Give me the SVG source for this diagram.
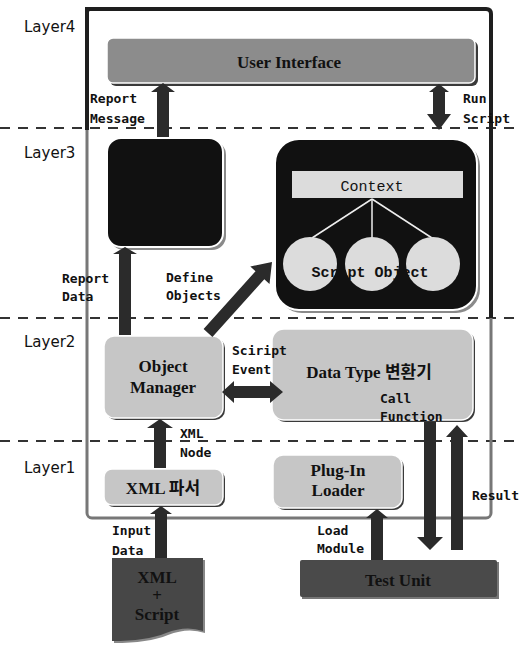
<svg xmlns="http://www.w3.org/2000/svg" width="521" height="649" viewBox="0 0 521 649">
<style>
  .lbl { font-family: "DejaVu Sans Mono", "Liberation Mono", monospace; font-weight: bold; font-size: 13px; fill: #111; }
  .layer { font-family: "DejaVu Sans", "Liberation Sans", sans-serif; font-size: 15px; fill: #111; }
  .title { font-family: "Liberation Serif", "Noto Sans CJK KR", serif; font-weight: bold; font-size: 17px; fill: #111; text-anchor: middle; }
  .mono { font-family: "Liberation Mono", "DejaVu Sans Mono", monospace; font-size: 15px; fill: #111; text-anchor: middle; }
  .dash { stroke: #333; stroke-width: 2; stroke-dasharray: 10 8; }
  .arrow { fill: #2b2b2b; }
  .shadowD { fill: #3a3a3a; }
  .shadowL { fill: #8a8a8a; }
  .light { fill: #c6c6c6; stroke: #fff; stroke-width: 1.5; }
  .black { fill: #111; stroke: #fff; stroke-width: 2; }
</style>
<rect width="521" height="649" fill="#fff"/>

<!-- layer separators -->
<g id="layers">
  <line class="dash" x1="0" y1="128" x2="521" y2="128"/>
  <line class="dash" x1="0" y1="318" x2="521" y2="318"/>
  <line class="dash" x1="0" y1="441" x2="521" y2="441"/>
  <text class="layer" x="24" y="32">Layer4</text>
  <text class="layer" x="24" y="158">Layer3</text>
  <text class="layer" x="24" y="347">Layer2</text>
  <text class="layer" x="24" y="473">Layer1</text>
</g>

<!-- outer frame -->
<g id="frame">
  <rect x="87" y="9" width="404" height="509" rx="5" fill="none" stroke="#777" stroke-width="3"/>
  <path d="M87,130 V9 H486 Q491,9 491,14 V318" fill="none" stroke="#1e1e1e" stroke-width="4"/>
</g>

<!-- nodes -->
<g id="user-interface">
  <rect class="shadowD" x="110" y="41" width="368" height="45" rx="6"/>
  <rect x="107" y="38" width="368" height="45" rx="6" fill="#8c8c8c" stroke="#fff" stroke-width="1.5"/>
  <text class="title" x="289" y="68" font-size="19" fill="#1a1a1a">User Interface</text>
</g>

<g id="report-box">
  <rect class="shadowL" x="110" y="141" width="116" height="109" rx="14"/>
  <rect class="black" x="107" y="138" width="116" height="109" rx="14"/>
</g>

<g id="context-box">
  <rect class="shadowL" x="278" y="142" width="202" height="171" rx="24"/>
  <rect class="black" x="275" y="139" width="202" height="171" rx="24"/>
  <rect x="292" y="171" width="171" height="27" fill="#dcdcdc"/>
  <text class="mono" x="372" y="191">Context</text>
  <g stroke="#eee" stroke-width="1.5">
    <line x1="372" y1="199" x2="312" y2="238"/>
    <line x1="372" y1="199" x2="372" y2="238"/>
    <line x1="372" y1="199" x2="432" y2="238"/>
  </g>
  <circle cx="310" cy="264" r="27" fill="#dcdcdc"/>
  <circle cx="372" cy="264" r="27" fill="#dcdcdc"/>
  <circle cx="433" cy="264" r="27" fill="#dcdcdc"/>
  <text class="mono" x="370" y="277" font-weight="bold">Script Object</text>
</g>

<g id="object-manager">
  <rect class="shadowD" x="106" y="338" width="119" height="82" rx="10"/>
  <rect class="light" x="104" y="336" width="119" height="82" rx="10"/>
  <text class="title" x="163" y="372">Object</text>
  <text class="title" x="163" y="393">Manager</text>
</g>

<g id="data-type">
  <rect class="shadowD" x="274" y="331" width="201" height="91" rx="12"/>
  <rect class="light" x="272" y="329" width="201" height="91" rx="12"/>
  <text class="title" x="369" y="378">Data Type 변환기</text>
</g>

<g id="xml-parser">
  <rect class="shadowD" x="106" y="471" width="119" height="36" rx="8"/>
  <rect class="light" x="104" y="469" width="119" height="36" rx="8"/>
  <text class="title" x="163" y="494">XML 파서</text>
</g>

<g id="plugin-loader">
  <rect class="shadowD" x="275" y="457" width="129" height="53" rx="10"/>
  <rect class="light" x="273" y="455" width="129" height="53" rx="10"/>
  <text class="title" x="338" y="476">Plug-In</text>
  <text class="title" x="338" y="496">Loader</text>
</g>

<g id="test-unit">
  <rect x="302" y="562" width="197" height="37" fill="#777"/>
  <rect x="300" y="560" width="197" height="37" rx="2" fill="#4a4a4a"/>
  <text class="title" x="398" y="586" font-size="18" fill="#8a8a8a">Test Unit</text>
</g>

<g id="xml-script">
  <path d="M114,560 H205 V633 Q188,627 168,635 T114,643 Z" fill="#888"/>
  <path d="M112,558 H203 V631 Q186,625 166,633 T112,641 Z" fill="#474747"/>
  <text class="title" x="157" y="583" font-size="15" fill="#8a8a8a">XML</text>
  <text class="title" x="157" y="601" font-size="15" fill="#8a8a8a">+</text>
  <text class="title" x="157" y="620" font-size="15" fill="#8a8a8a">Script</text>
</g>

<!-- connectors -->
<g id="connectors">
  <polygon class="arrow" points="157,137 157,92 151,92 163,83 175,92 169,92 169,137"/>
  <polygon class="arrow" points="439,84 449,92 445,92 445,114 451,114 439,130 427,114 433,114 433,92 429,92"/>
  <polygon class="arrow" points="119,335 119,254 113,254 125,247 137,254 131,254 131,335"/>
  <polygon class="arrow" points="203.6,329 255.5,271.3 250.3,266.5 272,262 269.5,284.1 264.3,279.3 212.4,337"/>
  <polygon class="arrow" points="222,392 234,381 234,386 270,386 270,381 283,392 270,403 270,398 234,398 234,403"/>
  <polygon class="arrow" points="154,468 154,428 147,428 160,419 173,428 166,428 166,468"/>
  <polygon class="arrow" points="155,558 155,514 150,514 161,506 172,514 167,514 167,558"/>
  <polygon class="arrow" points="371,560 371,518 366,518 377,509 388,518 383,518 383,560"/>
  <polygon class="arrow" points="424,422 436,422 436,537 443,537 430,550 417,537 424,537"/>
  <polygon class="arrow" points="451,550 451,437 446,437 457,425 468,437 463,437 463,550"/>
</g>

<!-- connector labels -->
<g id="labels">
  <text class="lbl" x="90" y="103">Report</text>
  <text class="lbl" x="90" y="123">Message</text>
  <text class="lbl" x="463" y="103">Run</text>
  <text class="lbl" x="463" y="123">Script</text>
  <text class="lbl" x="62" y="283">Report</text>
  <text class="lbl" x="62" y="301">Data</text>
  <text class="lbl" x="166" y="282">Define</text>
  <text class="lbl" x="166" y="300">Objects</text>
  <text class="lbl" x="232" y="355">Sciript</text>
  <text class="lbl" x="232" y="374">Event</text>
  <text class="lbl" x="380" y="403">Call</text>
  <text class="lbl" x="380" y="421">Function</text>
  <text class="lbl" x="180" y="438">XML</text>
  <text class="lbl" x="180" y="457">Node</text>
  <text class="lbl" x="472" y="500">Result</text>
  <text class="lbl" x="112" y="535">Input</text>
  <text class="lbl" x="112" y="555">Data</text>
  <text class="lbl" x="317" y="535">Load</text>
  <text class="lbl" x="317" y="553">Module</text>
</g>
</svg>
